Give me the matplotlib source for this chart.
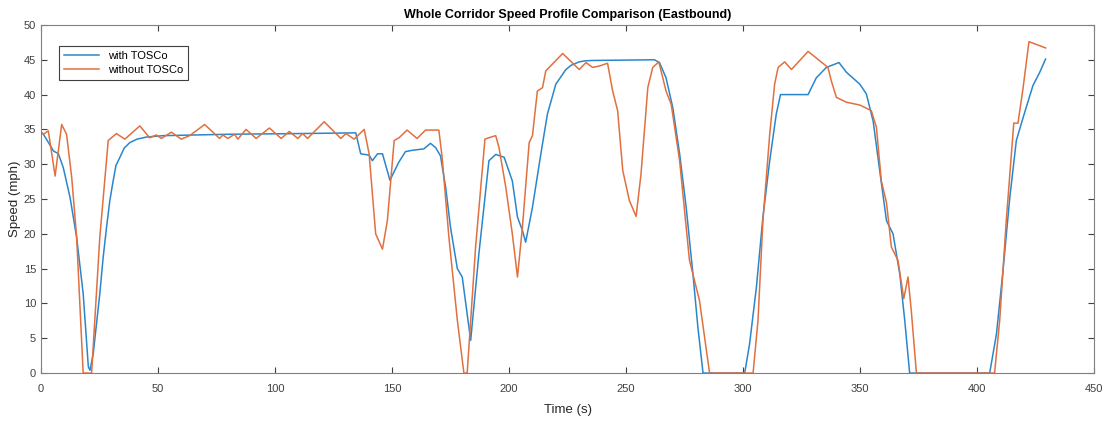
import matplotlib
matplotlib.use("Agg")
import matplotlib.pyplot as plt

plt.rcParams['font.family'] = ['Liberation Sans', 'DejaVu Sans']

# with TOSCo
t_with = [0, 1, 3, 5.3, 7.4, 9.5, 12.4, 15.2, 18, 20.2, 20.9, 22.3, 23.5, 25.1, 26.5, 28, 29.4, 30.8, 32,
          33.7, 35.5, 37.9, 41, 45, 52.1, 80, 110, 134.5, 136.6, 140.2, 141.6, 143.8, 145.9, 149.1,
          152.9, 155.7, 158.6, 163.6, 166.4, 168.6, 170.7, 172.9, 175, 177.9, 180, 183.6, 187.1, 191.4,
          194.3, 197.9, 201.4, 203.6, 205.7, 207.1, 210, 213.6, 216.4, 220, 224.3, 226.5, 230, 232.5,
          235.7, 262.1, 264.3, 267.1, 270, 272.9, 275.7, 278.6, 280.7, 282.9, 300.7, 302.8, 305.7,
          308.5, 311.4, 314.2, 316, 327.8, 331.3, 335.6, 341, 344.2, 349.9, 352.7, 355.6, 358.4,
          361.3, 364.1, 367, 369.1, 371.2, 405.4, 408.3, 411.1, 414, 416.8, 419.7, 423.9, 426.8, 429.3]
v_with = [34.6, 34.3, 33.2, 31.9, 31.5, 29.5, 25.2, 19.5, 11.4, 0.9, 0.4, 2.8, 6.5, 11.4, 16.5, 21, 24.8, 27.6,
          29.8, 31, 32.3, 33.1, 33.6, 33.9, 34.1, 34.3, 34.4, 34.5, 31.5, 31.3, 30.5, 31.5, 31.5, 27.7,
          30.3, 31.8, 32, 32.2, 33, 32.4, 31.2, 26.7, 20.9, 15, 13.8, 4.7, 17.1, 30.5,
          31.4, 31, 27.6, 22.4, 20.5, 18.8, 23.8, 31.5, 37.2, 41.5, 43.6, 44.2, 44.7, 44.85,
          44.9, 45, 44.6, 42.4, 38.1, 31.5, 23.8, 14.2, 6.6, 0, 0, 4.2, 12.3,
          22.4, 30.5, 37.2, 40, 40, 42.4, 43.9, 44.6, 43.2, 41.5, 40.1, 36.2, 29.1,
          21.9, 20, 14.2, 7.6, 0, 0, 5.6, 14.7, 25.2, 33.4, 36.7, 41.3, 43.2, 45.1]

# without TOSCo
t_without = [0, 1, 3.1, 6.0, 8.8, 10.9, 13.1, 15.2, 18, 21.6, 25.1, 28.7, 32.2, 35.8, 42.2, 46.4, 49.3,
             51.4, 55.7, 59.9, 63.5, 69.9, 76.3, 77.7, 79.8, 82.7, 84.1, 87.6, 91.9, 97.6, 102.6, 106.1,
             109.7, 111.8, 113.9, 121, 128.1, 130.3, 133.8, 138.1, 140.2, 143, 145.9, 148, 150.9, 153,
             156.4, 160.7, 164.3, 170, 171.4, 174.3, 177.9, 180.7, 182.1, 185.7, 189.7, 191.4, 194.3,
             195.7, 198.6, 201.4, 203.6, 205.7, 208.6, 210, 212.1, 214.3, 215.7, 222.9, 230, 232.9,
             235.7, 238.6, 242.1, 244.3, 246.4, 248.6, 251.4, 254.3, 256.4, 259.3, 261.4, 264, 267.1,
             269.3, 272.9, 277.1, 281.4, 285.7, 304.3, 306.4, 308.5, 311.4, 313.5, 315, 317.8, 320.7,
             327.8, 336.3, 337.7, 339.9, 344.2, 349.9, 354.8, 357, 359.1, 361.3, 363.4, 366.2, 368.7,
             370.5, 371.9, 374.1, 407.5, 409.7, 412.5, 415.7, 417.5, 419.7, 422.2, 429.3]
v_without = [34.6, 34.3, 34.8, 28.3, 35.7, 34.3, 28.1, 19.5, 0, 0, 19.5, 33.4, 34.4, 33.6, 35.5, 33.8, 34.2,
             33.7, 34.6, 33.6, 34.1, 35.7, 33.7, 34.2, 33.7, 34.3, 33.6, 35.0, 33.7, 35.2, 33.7, 34.7,
             33.7, 34.4, 33.7, 36.1, 33.7, 34.4, 33.6, 35.0, 31.5, 20, 17.8, 21.9, 33.4, 33.8,
             34.9, 33.7, 34.9, 34.9, 31, 19.5, 7.6, 0, 0, 18.1, 33.6, 33.8, 34.1,
             32.4, 26.7, 20, 13.8, 20.9, 33.1, 34.1, 40.5, 41, 43.4, 45.9, 43.6, 44.6,
             43.9, 44.1, 44.5, 40.5, 37.7, 29.1, 24.8, 22.5, 28.6, 41, 43.9, 44.7, 40.5,
             38.6, 30.5, 16.2, 10.4, 0, 0, 7.6, 21.9, 34.3, 41.5, 43.9, 44.7, 43.6,
             46.2, 43.9, 42, 39.6, 38.9, 38.5, 37.7, 35.3, 27.6, 24.5, 18.1, 16.2, 10.7,
             13.8, 9, 0, 0, 7.6, 21.9, 35.9, 35.9, 41, 47.6, 46.7]

fig = plt.figure(figsize=(11.1, 4.23), dpi=100)
ax = fig.add_axes([0.037, 0.118, 0.9486, 0.823])

ax.plot(t_with, v_with, color='#2a86cc', lw=1.1, label='with TOSCo')
ax.plot(t_without, v_without, color='#e0703f', lw=1.1, label='without TOSCo')

ax.set_xlim(0, 450)
ax.set_ylim(0, 50)
ax.set_xticks(range(0, 451, 50))
ax.set_yticks(range(0, 51, 5))
ax.tick_params(direction='in', top=True, right=True, labelsize=8, colors='#404040', length=4)
ax.tick_params(axis='x', pad=8)
for s in ax.spines.values():
    s.set_color('#808080')

ax.set_title('Whole Corridor Speed Profile Comparison (Eastbound)', fontsize=9, fontweight='bold', pad=5)
ax.set_xlabel('Time (s)', fontsize=9.5, color='#262626', labelpad=7)
ax.set_ylabel('Speed (mph)', fontsize=9.5, color='#262626', labelpad=2)

leg = ax.legend(loc='upper left', bbox_to_anchor=(0.012, 0.955), fontsize=8, fancybox=False,
                framealpha=1, edgecolor='#404040', handlelength=3.2, borderpad=0.4, labelspacing=0.4)
leg.get_frame().set_linewidth(0.8)

fig.savefig('out.png', dpi=100)
